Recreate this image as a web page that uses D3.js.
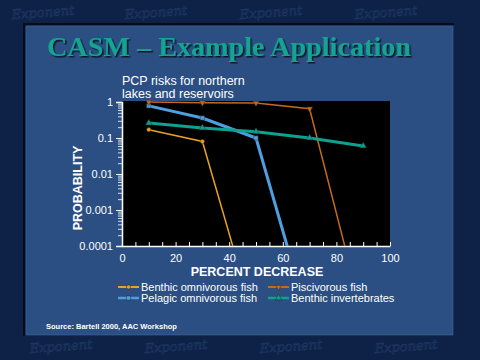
<!DOCTYPE html>
<html><head><meta charset="utf-8">
<script src="https://cdn.jsdelivr.net/npm/d3@7"></script>
<style>body{margin:0;background:#0e2247;}svg{display:block;}</style>
</head><body>
<svg id="c" width="480" height="360"></svg>
<script>
const xTicks = [0,20,40,60,80,100];
const yTicks = [1,0.1,0.01,0.001,0.0001];
const yTickLabels = ["1","0.1","0.01","0.001","0.0001"];
const seriesNames = ["Benthic omnivorous fish","Pelagic omnivorous fish","Piscivorous fish","Benthic invertebrates"];
const benthicOmniX = [10,30,50];
const benthicOmniY = [0.17,0.08,0.0000006];
const pelagicX = [10,30,50,70];
const pelagicY = [0.78,0.36,0.1,0.0000007];
const pisciX = [10,30,50,70,90];
const pisciY = [1.0,0.96,0.94,0.65,0.000001];
const invertX = [10,30,50,70,90];
const invertY = [0.26,0.19,0.15,0.1,0.06];

const svg = d3.select("#c");
const defs = svg.append("defs");
const f = defs.append("filter").attr("id","sh").attr("x","-5%").attr("y","-20%").attr("width","110%").attr("height","140%");
f.append("feDropShadow").attr("dx",1.5).attr("dy",1.5).attr("stdDeviation",0.4).attr("flood-color","#06101f").attr("flood-opacity",0.9);

svg.append("rect").attr("width",480).attr("height",360).attr("fill","#0e2247");
// faint watermark
const wm = svg.append("g").attr("fill","none").attr("stroke","#1c3660").attr("stroke-width",0.7)
  .attr("font-family","DejaVu Serif").attr("font-style","italic").attr("font-size",13);
[[12,19],[125,19],[240,19],[355,19],[30,353],[145,353],[260,353],[375,353]].forEach(p=>{
  wm.append("text").attr("x",p[0]).attr("y",p[1]).attr("transform",`rotate(-4,${p[0]},${p[1]})`).text("Exponent");
});
// panel
svg.append("rect").attr("x",23).attr("y",23).attr("width",431).attr("height",313).attr("fill","#050d1c");
svg.append("rect").attr("x",26).attr("y",26).attr("width",427).attr("height",309).attr("fill","#2b4f82")
  .attr("stroke","#3a5f92").attr("stroke-width",1);

// title
svg.append("text").attr("x",229).attr("y",56).attr("text-anchor","middle")
  .attr("font-family","Liberation Serif, Times New Roman").attr("font-weight","bold").attr("font-size",27)
  .attr("fill","#13a391").attr("textLength",364).attr("lengthAdjust","spacingAndGlyphs")
  .attr("filter","url(#sh)").text("CASM – Example Application");

const x = d3.scaleLinear().domain([0,100]).range([122,390]);
const y = d3.scaleLog().domain([0.0001,1]).range([246,102]);

svg.append("rect").attr("x",122).attr("y",101).attr("width",268).attr("height",145).attr("fill","#000");

// chart title
svg.append("text").attr("x",122).attr("y",85).attr("fill","#fff").attr("font-family","Liberation Sans, Arial")
  .attr("font-size",12.5).text("PCP risks for northern");
svg.append("text").attr("x",122).attr("y",98).attr("fill","#fff").attr("font-family","Liberation Sans, Arial")
  .attr("font-size",12.5).text("lakes and reservoirs");

// axes
const yAxis = d3.axisLeft(y).tickValues(yTicks).tickFormat((d,i)=>yTickLabels[i]).tickSize(6).tickPadding(3);
const gy = svg.append("g").attr("transform","translate(122,0)").call(yAxis);
gy.select(".domain").attr("stroke","#fff").attr("stroke-width",1.5);
gy.selectAll(".tick line").attr("stroke","#fff");
gy.selectAll(".tick text").attr("fill","#fff").attr("font-family","Liberation Sans, Arial").attr("font-size",11);
const minor = [];
for (let e=-4;e<0;e++) for (let m=2;m<10;m++) minor.push(m*Math.pow(10,e));
const gym = svg.append("g").attr("transform","translate(122,0)").call(d3.axisLeft(y).tickValues(minor).tickFormat("").tickSize(4));
gym.select(".domain").remove();
gym.selectAll(".tick line").attr("stroke","#fff").attr("stroke-width",0.8);

const xAxis = d3.axisBottom(x).tickValues(xTicks).tickFormat(d3.format("d")).tickSize(0).tickPadding(8);
const gx = svg.append("g").attr("transform","translate(0,246)").call(xAxis);
gx.select(".domain").attr("stroke","#fff").attr("stroke-width",1.5);
gx.selectAll(".tick text").attr("fill","#fff").attr("font-family","Liberation Sans, Arial").attr("font-size",11);
const gxm = svg.append("g").attr("transform","translate(0,246)").call(d3.axisTop(x).tickValues(d3.range(0,101,5)).tickFormat("").tickSize(4));
gxm.select(".domain").remove();
gxm.selectAll(".tick line").attr("stroke","#fff");

svg.append("text").attr("transform","translate(82,188) rotate(-90)").attr("text-anchor","middle")
  .attr("fill","#fff").attr("font-family","Liberation Sans, Arial").attr("font-weight","bold").attr("font-size",12.5).text("PROBABILITY");
svg.append("text").attr("x",257).attr("y",276).attr("text-anchor","middle")
  .attr("fill","#fff").attr("font-family","Liberation Sans, Arial").attr("font-weight","bold").attr("font-size",12.5).text("PERCENT DECREASE");

// series
svg.append("clipPath").attr("id","clip").append("rect").attr("x",122).attr("y",96).attr("width",268).attr("height",150);
const plot = svg.append("g").attr("clip-path","url(#clip)");
const series = [
  {name:seriesNames[0], xs:benthicOmniX, ys:benthicOmniY, color:"#e9a21f", w:1.5, sym:d3.symbolCircle, size:14},
  {name:seriesNames[1], xs:pelagicX, ys:pelagicY, color:"#4f9fe0", w:3, sym:d3.symbolSquare, size:18},
  {name:seriesNames[2], xs:pisciX, ys:pisciY, color:"#c46a18", w:1.5, sym:d3.symbolTriangle, size:16, rot:180},
  {name:seriesNames[3], xs:invertX, ys:invertY, color:"#0fa08f", w:3, sym:d3.symbolTriangle, size:18, rot:0}
];
const line = d3.line().x(d=>x(d[0])).y(d=>y(d[1]));
series.forEach(s=>{
  const pts = s.xs.map((v,i)=>[v,s.ys[i]]);
  plot.append("path").attr("d",line(pts)).attr("fill","none").attr("stroke",s.color).attr("stroke-width",s.w);
  plot.selectAll(null).data(pts.filter(p=>p[1]>=0.0001)).enter().append("path")
    .attr("d",d3.symbol().type(s.sym).size(s.size))
    .attr("transform",p=>`translate(${x(p[0])},${y(p[1])}) rotate(${s.rot||0})`)
    .attr("fill",s.color).attr("stroke","#333").attr("stroke-width",0.5);
});

// legend
const legPos = [[118,291],[118,302],[268,291],[268,302]];
series.forEach((s,i)=>{
  const [lx,ly] = legPos[i];
  svg.append("line").attr("x1",lx).attr("x2",lx+21).attr("y1",ly-4).attr("y2",ly-4).attr("stroke",s.color).attr("stroke-width",s.w===3?2.5:2);
  svg.append("path").attr("d",d3.symbol().type(s.sym).size(s.size)).attr("transform",`translate(${lx+10.5},${ly-4}) rotate(${s.rot||0})`)
    .attr("fill",s.color).attr("stroke","#222").attr("stroke-width",0.5);
  svg.append("text").attr("x",lx+23).attr("y",ly).attr("fill","#fff").attr("font-family","Liberation Sans, Arial").attr("font-size",11).text(s.name);
});

svg.append("text").attr("x",46).attr("y",329).attr("fill","#fff").attr("font-family","Liberation Sans, Arial")
  .attr("font-weight","bold").attr("font-size",7.5).text("Source: Bartell 2000, AAC Workshop");
</script>
</body></html>
